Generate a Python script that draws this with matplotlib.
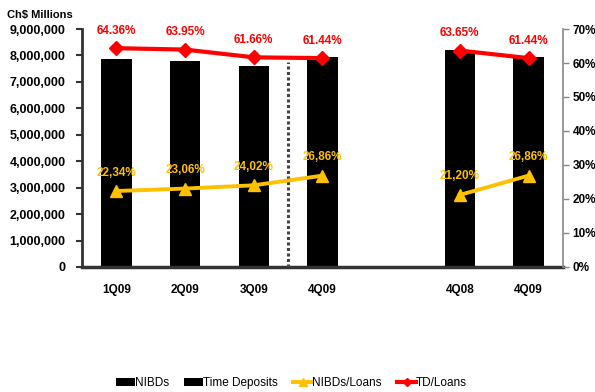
import numpy as np
import matplotlib.pyplot as plt
from matplotlib.ticker import FuncFormatter

plt.rcParams['font.family'] = ['Liberation Sans', 'DejaVu Sans']

# slot 4 is the empty gap between the two groups
categories = ['1Q09', '2Q09', '3Q09', '4Q09', '', '4Q08', '4Q09']
nibds = [2650000, 2640000, 2600000, 2850000, np.nan, 2480000, 2850000]
time_deposits = [5220000, 5160000, 5010000, 5100000, np.nan, 5720000, 5100000]
nibd_loans = [22.34, 23.06, 24.02, 26.86, np.nan, 21.20, 26.86]
td_loans = [64.36, 63.95, 61.66, 61.44, np.nan, 63.65, 61.44]
nibd_labels = ['22,34%', '23,06%', '24,02%', '26,86%', '', '21,20%', '26,86%']
td_labels = ['64.36%', '63.95%', '61.66%', '61.44%', '', '63.65%', '61.44%']

yellow = '#FFC000'
red = '#FF0000'

fig = plt.figure(figsize=(5.95, 3.92), dpi=100)
ax = fig.add_axes([0.138, 0.319, 0.808, 0.607])
ax2 = ax.twinx()

x = np.arange(len(categories))
w = 0.44
b1 = ax.bar(x, nibds, w, color='black', label='NIBDs', zorder=2)
b2 = ax.bar(x, time_deposits, w, bottom=nibds, color='black',
            label='Time Deposits', zorder=2)

# dotted separator between 3Q09 and 4Q09
ax.plot([2.5, 2.5], [0, 7750000], color='#444444', lw=2.2, ls=(0, (1, 0.8)), zorder=3)

l1, = ax2.plot(x, nibd_loans, color=yellow, lw=2.8, marker='^', ms=9, label='NIBDs/Loans')
l2, = ax2.plot(x, td_loans, color=red, lw=3, marker='D', ms=7, label='TD/Loans')

for xi, v, t in zip(x, nibd_loans, nibd_labels):
    if t:
        ax2.annotate(t, (xi, v), xytext=(0, 9), textcoords='offset points',
                     ha='center', va='bottom', color=yellow, fontsize=8.5, fontweight='bold')
for xi, v, t in zip(x, td_loans, td_labels):
    if t:
        ax2.annotate(t, (xi, v), xytext=(0, 8), textcoords='offset points',
                     ha='center', va='bottom', color=red, fontsize=8.5, fontweight='bold')

ax.set_xlim(-0.5, 6.5)
ax.set_ylim(0, 9000000)
ax.set_yticks(np.arange(0, 9000001, 1000000))
ax.yaxis.set_major_formatter(FuncFormatter(lambda v, p: f'{int(v):,}'))
ax2.set_ylim(0, 70)
ax2.set_yticks(np.arange(0, 71, 10))
ax2.yaxis.set_major_formatter(FuncFormatter(lambda v, p: f'{int(v)}%'))

ax.set_xticks(x)
ax.set_xticklabels(categories, fontsize=8.5, fontweight='bold')
ax.tick_params(axis='x', length=0, pad=12)
ax.tick_params(axis='y', labelsize=9, length=4, width=1.5, color='#333333', pad=8)
for lab in ax.get_yticklabels():
    lab.set_fontweight('bold')
ax2.tick_params(axis='y', labelsize=8.5, length=4, width=1, color='#888888', pad=3)
for lab in ax2.get_yticklabels():
    lab.set_fontweight('bold')

for a in (ax, ax2):
    a.spines['top'].set_visible(False)
ax.spines['left'].set_color('#333333')
ax.spines['left'].set_linewidth(2)
ax.spines['bottom'].set_color('#333333')
ax.spines['bottom'].set_linewidth(2.5)
ax2.spines['left'].set_visible(False)
ax2.spines['bottom'].set_visible(False)
ax2.spines['right'].set_color('#888888')
ax2.spines['right'].set_linewidth(1.2)
ax.spines['right'].set_visible(False)

fig.text(0.012, 0.963, 'Ch$ Millions', fontsize=8, fontweight='bold', va='center')

fig.legend(handles=[b1, b2, l1, l2], loc='center', bbox_to_anchor=(0.49, 0.022),
           ncol=4, frameon=False, fontsize=8.5, handlelength=1.6, handletextpad=0.0,
           columnspacing=1.3, markerscale=0.6)

fig.savefig('out.png', dpi=100)
